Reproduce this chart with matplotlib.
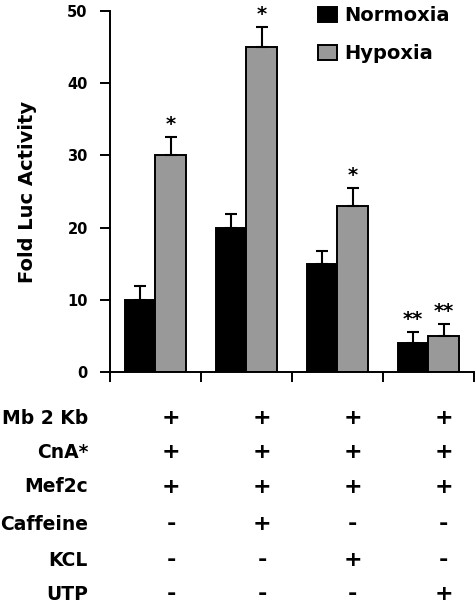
import numpy as np
import matplotlib
matplotlib.use("Agg")
import matplotlib.pyplot as plt
from matplotlib.transforms import blended_transform_factory

plt.rcParams["font.family"] = ["DejaVu Sans"]
plt.rcParams["font.weight"] = "bold"

# ---- data ----
normoxia = [10, 20, 15, 4]
hypoxia = [30, 45, 23, 5]
err_norm = [1.9, 1.9, 1.8, 1.5]
err_hyp = [2.5, 2.8, 2.5, 1.6]
stars_norm = ["", "", "", "**"]
stars_hyp = ["*", "*", "*", "**"]

row_labels = ["Mb 2 Kb", "CnA*", "Mef2c", "Caffeine", "KCL", "UTP"]
row_marks = [
    ["+", "+", "+", "+"],
    ["+", "+", "+", "+"],
    ["+", "+", "+", "+"],
    ["-", "+", "-", "-"],
    ["-", "-", "+", "-"],
    ["-", "-", "-", "+"],
]

fig = plt.figure(figsize=(4.77, 6.04), dpi=100)
ax = fig.add_axes([0.2306, 0.384, 0.763, 0.598])

x = np.arange(len(normoxia)) + 0.5
w = 0.34
ekw = dict(elinewidth=1.5, capthick=1.5, capsize=4, ecolor="black")
ax.bar(x - w / 2, normoxia, w, color="black", edgecolor="black", lw=1.4,
       yerr=[np.zeros(4), err_norm], error_kw=ekw, label="Normoxia", zorder=2)
ax.bar(x + w / 2, hypoxia, w, color="#999999", edgecolor="black", lw=1.4,
       yerr=[np.zeros(4), err_hyp], error_kw=ekw, label="Hypoxia", zorder=2)

for i in range(len(x)):
    if stars_norm[i]:
        ax.text(x[i] - w / 2, normoxia[i] + err_norm[i] + 0.4, stars_norm[i],
                ha="center", va="bottom", fontsize=14, fontweight="bold")
    if stars_hyp[i]:
        ax.text(x[i] + w / 2, hypoxia[i] + err_hyp[i] + 0.4, stars_hyp[i],
                ha="center", va="bottom", fontsize=14, fontweight="bold")

ax.set_xlim(0, 4)
ax.set_ylim(0, 50)
ax.set_yticks(range(0, 51, 10))
ax.set_xticks(range(0, 5))
ax.set_xticklabels([])
ax.tick_params(axis="y", direction="out", length=7, width=1.4, labelsize=10.5, pad=9)
ax.tick_params(axis="x", direction="out", length=7, width=1.4)
for s in ("top", "right"):
    ax.spines[s].set_visible(False)
for s in ("left", "bottom"):
    ax.spines[s].set_linewidth(1.4)
ax.set_ylabel("Fold Luc Activity", fontsize=14, fontweight="bold")
ax.yaxis.set_label_coords(-0.20, 0.5)

ax.legend(loc="upper left", bbox_to_anchor=(0.523, 1.062), frameon=False,
          prop={"size": 14, "weight": "bold"}, handlelength=1.0, handleheight=0.8,
          handletextpad=0.35, labelspacing=1.0)

# ---- condition table below the axis ----
tr = blended_transform_factory(ax.transData, fig.transFigure)
row_y = [418, 452, 487, 524, 560, 594]
for lab, marks, py in zip(row_labels, row_marks, row_y):
    fy = 1 - py / 604
    fig.text(0.1845, fy, lab, ha="right", va="center", fontsize=13.5, fontweight="bold")
    for i, m in enumerate(marks):
        ax.text(x[i] + w / 2, fy, m, transform=tr, ha="center", va="center",
                fontsize=16, fontweight="bold", clip_on=False)

fig.savefig("out.png", dpi=100)
